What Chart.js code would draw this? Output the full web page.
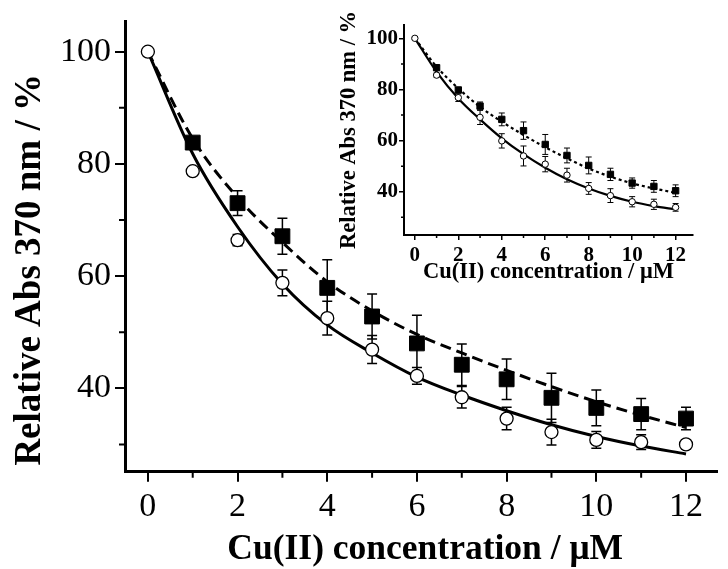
<!DOCTYPE html>
<html>
<head>
<meta charset="utf-8">
<script src="https://cdn.jsdelivr.net/npm/chart.js@4.4.0/dist/chart.umd.min.js"></script>
<style>
  body { margin: 0; background: #fff; }
  #wrap { position: relative; width: 728px; height: 569px; }
  #mainChart { position: absolute; left: 0; top: 0; }
  #insetChart { position: absolute; left: 335px; top: 0; }
</style>
</head>
<body>
<div id="wrap">
  <canvas id="mainChart" width="728" height="569"></canvas>
  <canvas id="insetChart" width="393" height="292"></canvas>
</div>
<script>
// x values, Cu(II) concentration in uM
const conc = [0, 1, 2, 3, 4, 5, 6, 7, 8, 9, 10, 11, 12];
const xTicks = [0, 2, 4, 6, 8, 10, 12];
const yTicks = [40, 60, 80, 100];
const xMinor = [1, 3, 5, 7, 9, 11];
const yMinor = [30, 50, 70, 90];

// main plot
const mainSquare = [100, 83.8, 73.0, 67.1, 57.9, 52.8, 48.0, 44.2, 41.6, 38.3, 36.5, 35.4, 34.6];
const mainSquareErr = [0.6, 0.8, 2.2, 3.2, 5.0, 4.0, 5.0, 3.7, 3.6, 4.4, 3.2, 2.8, 2.0];
const mainCircle = [100, 78.7, 66.4, 58.8, 52.5, 46.9, 42.2, 38.4, 34.6, 32.2, 30.8, 30.4, 30.0];
const mainCircleErr = [0.5, 0.6, 1.0, 2.3, 3.0, 2.5, 1.5, 1.9, 2.0, 2.3, 1.5, 1.3, 0.8];
const mainFitDashed = [100, 84.5, 74.0, 66.0, 59.0, 53.8, 49.6, 46.3, 43.2, 40.3, 37.6, 35.2, 33.0];
const mainFitSolid = [100, 81.8, 68.8, 58.6, 51.3, 46.3, 42.0, 38.8, 36.0, 33.5, 31.4, 29.7, 28.3];

// inset plot
const insetSquare = [100, 88.5, 79.8, 73.5, 68.3, 63.9, 58.5, 54.2, 50.3, 46.8, 43.4, 42.1, 40.4];
const insetSquareErr = [0.4, 0.8, 1.0, 1.6, 2.5, 3.4, 3.9, 2.9, 3.3, 2.4, 2.0, 2.3, 2.3];
const insetCircle = [100, 85.6, 76.8, 69.1, 59.9, 54.0, 50.8, 46.5, 41.3, 38.5, 36.1, 35.1, 33.9];
const insetCircleErr = [0.4, 0.8, 1.5, 2.8, 2.8, 3.9, 3.0, 2.7, 2.3, 2.7, 2.0, 2.0, 1.5];
const insetFitDotted = [100, 88.9, 80.4, 73.2, 67.4, 62.2, 57.4, 53.1, 49.1, 45.9, 43.3, 41.3, 39.6];
const insetFitSolid = [100, 86.9, 76.5, 68.3, 60.9, 54.7, 49.4, 44.9, 41.3, 38.4, 36.1, 34.4, 33.1];

const serif = '"Liberation Serif", "Times New Roman", serif';

function pts(ys) {
  return conc.map((c, i) => ({ x: c, y: ys[i] }));
}

// error bars for datasets that carry an errors array (drawn under the markers)
const errorBars = {
  id: 'errorBars',
  beforeDatasetsDraw(chart, args, opts) {
    const ctx = chart.ctx;
    const yScale = chart.scales.y;
    ctx.save();
    ctx.strokeStyle = '#000';
    ctx.lineWidth = opts.width;
    chart.data.datasets.forEach((ds, di) => {
      if (!ds.errors) return;
      const meta = chart.getDatasetMeta(di);
      meta.data.forEach((p, i) => {
        const v = ds.data[i].y;
        const top = yScale.getPixelForValue(v + ds.errors[i]);
        const bot = yScale.getPixelForValue(v - ds.errors[i]);
        ctx.beginPath();
        ctx.moveTo(p.x, top); ctx.lineTo(p.x, bot);
        ctx.moveTo(p.x - opts.cap, top); ctx.lineTo(p.x + opts.cap, top);
        ctx.moveTo(p.x - opts.cap, bot); ctx.lineTo(p.x + opts.cap, bot);
        ctx.stroke();
      });
    });
    ctx.restore();
  }
};

// short ticks between the labelled ones
const minorTicks = {
  id: 'minorTicks',
  afterDraw(chart, args, opts) {
    const ctx = chart.ctx;
    const { x, y } = chart.scales;
    ctx.save();
    ctx.strokeStyle = '#000';
    ctx.lineWidth = opts.width;
    ctx.beginPath();
    xMinor.forEach(v => {
      const px = x.getPixelForValue(v);
      ctx.moveTo(px, x.top); ctx.lineTo(px, x.top + opts.len);
    });
    yMinor.forEach(v => {
      const py = y.getPixelForValue(v);
      ctx.moveTo(y.right, py); ctx.lineTo(y.right - opts.len, py);
    });
    ctx.stroke();
    ctx.restore();
  }
};

function noPad(s) {
  s.paddingTop = 0; s.paddingBottom = 0; s.paddingLeft = 0; s.paddingRight = 0;
}

function makeChart(el, cfg) {
  return new Chart(el, {
    type: 'scatter',
    data: {
      datasets: [
        { data: pts(cfg.fitA), showLine: true, borderColor: '#000', borderWidth: cfg.lineW, order: 2,
          borderDash: cfg.dashA, pointRadius: 0, cubicInterpolationMode: 'monotone', fill: false },
        { data: pts(cfg.fitB), showLine: true, borderColor: '#000', borderWidth: cfg.lineW, order: 2,
          pointRadius: 0, cubicInterpolationMode: 'monotone', fill: false },
        // the first square sits behind the first circle (both 100 %)
        { data: pts(cfg.sq), errors: cfg.sqErr, showLine: false, pointStyle: 'rect', order: 1,
          pointRadius: c => c.dataIndex === 0 ? 0 : cfg.sqR,
          backgroundColor: '#000', borderColor: '#000', borderWidth: 1 },
        { data: pts(cfg.ci), errors: cfg.ciErr, showLine: false, pointStyle: 'circle', order: 0,
          pointRadius: cfg.ciR, backgroundColor: '#fff', borderColor: '#000', borderWidth: cfg.ciW }
      ]
    },
    options: {
      responsive: false,
      animation: false,
      devicePixelRatio: 1,
      layout: { padding: cfg.padding },
      plugins: {
        legend: { display: false },
        tooltip: { enabled: false },
        errorBars: { width: cfg.errW, cap: cfg.cap },
        minorTicks: { width: cfg.tickW, len: cfg.minorLen }
      },
      scales: {
        x: {
          type: 'linear', min: cfg.xMin, max: cfg.xMax,
          afterBuildTicks: s => { s.ticks = xTicks.map(v => ({ value: v })); },
          afterFit: s => { s.height = cfg.xH; noPad(s); },
          border: { display: true, width: cfg.axisW, color: '#000' },
          grid: { drawOnChartArea: false, color: '#000', lineWidth: cfg.tickW, tickLength: cfg.majorLen },
          ticks: { color: '#000', maxRotation: 0, autoSkip: false,
                   padding: cfg.xTickPad, font: { family: serif, size: cfg.tickSize, weight: cfg.weight } },
          title: { display: true, text: cfg.xTitle, color: '#000',
                   padding: { top: 0, bottom: cfg.titlePadX },
                   font: { family: serif, size: cfg.titleSize, weight: 'bold', lineHeight: 1 } }
        },
        y: {
          min: cfg.yMin, max: cfg.yMax,
          afterBuildTicks: s => { s.ticks = yTicks.map(v => ({ value: v })); },
          afterFit: s => { s.width = cfg.yW; noPad(s); },
          border: { display: true, width: cfg.axisW, color: '#000' },
          grid: { drawOnChartArea: false, color: '#000', lineWidth: cfg.tickW, tickLength: cfg.majorLen },
          ticks: { color: '#000', autoSkip: false,
                   padding: cfg.yTickPad, font: { family: serif, size: cfg.tickSize, weight: cfg.weight } },
          title: { display: true, text: cfg.yTitle, color: '#000',
                   padding: { top: cfg.titlePadY, bottom: 0 },
                   font: { family: serif, size: cfg.yTitleSize, weight: 'bold', lineHeight: 1 } }
        }
      }
    },
    plugins: [errorBars, minorTicks]
  });
}

makeChart(document.getElementById('mainChart'), {
  fitA: mainFitDashed, dashA: [11, 6], fitB: mainFitSolid,
  sq: mainSquare, sqErr: mainSquareErr, ci: mainCircle, ciErr: mainCircleErr,
  lineW: 3, sqR: 10.5, ciR: 6.5, ciW: 1.3, errW: 1.5, cap: 5,
  padding: { top: 21.7, right: 0, left: 0, bottom: 0 },
  xMin: -0.51, xMax: 12.68, yMin: 25.13, yMax: 105.35,
  xH: 97.3, yW: 125, axisW: 3, tickW: 2, majorLen: 10, minorLen: 6,
  tickSize: 34, weight: 'normal', titleSize: 35.5, yTitleSize: 37,
  xTitle: '\u2005Cu(II) concentration / μM',
  yTitle: 'Relative Abs 370 nm / %\u2003\u2005',
  xTickPad: 5, yTickPad: 4, titlePadX: 1, titlePadY: 12
});

makeChart(document.getElementById('insetChart'), {
  fitA: insetFitDotted, dashA: [3, 3], fitB: insetFitSolid,
  sq: insetSquare, sqErr: insetSquareErr, ci: insetCircle, ciErr: insetCircleErr,
  lineW: 2.2, sqR: 4.5, ciR: 3.2, ciW: 1, errW: 1, cap: 3,
  padding: { top: 25, right: 35, left: 0, bottom: 0 },
  xMin: -0.5, xMax: 12.8, yMin: 23.1, yMax: 105.2,
  xH: 57, yW: 69, axisW: 2, tickW: 1.5, majorLen: 5, minorLen: 3,
  tickSize: 21, weight: 'bold', titleSize: 22.5, yTitleSize: 22.5,
  xTitle: 'Cu(II) concentration / μM',
  yTitle: 'Relative Abs 370 nm / %',
  xTickPad: 3, yTickPad: 1, titlePadX: 9, titlePadY: 3
});
</script>
</body>
</html>
